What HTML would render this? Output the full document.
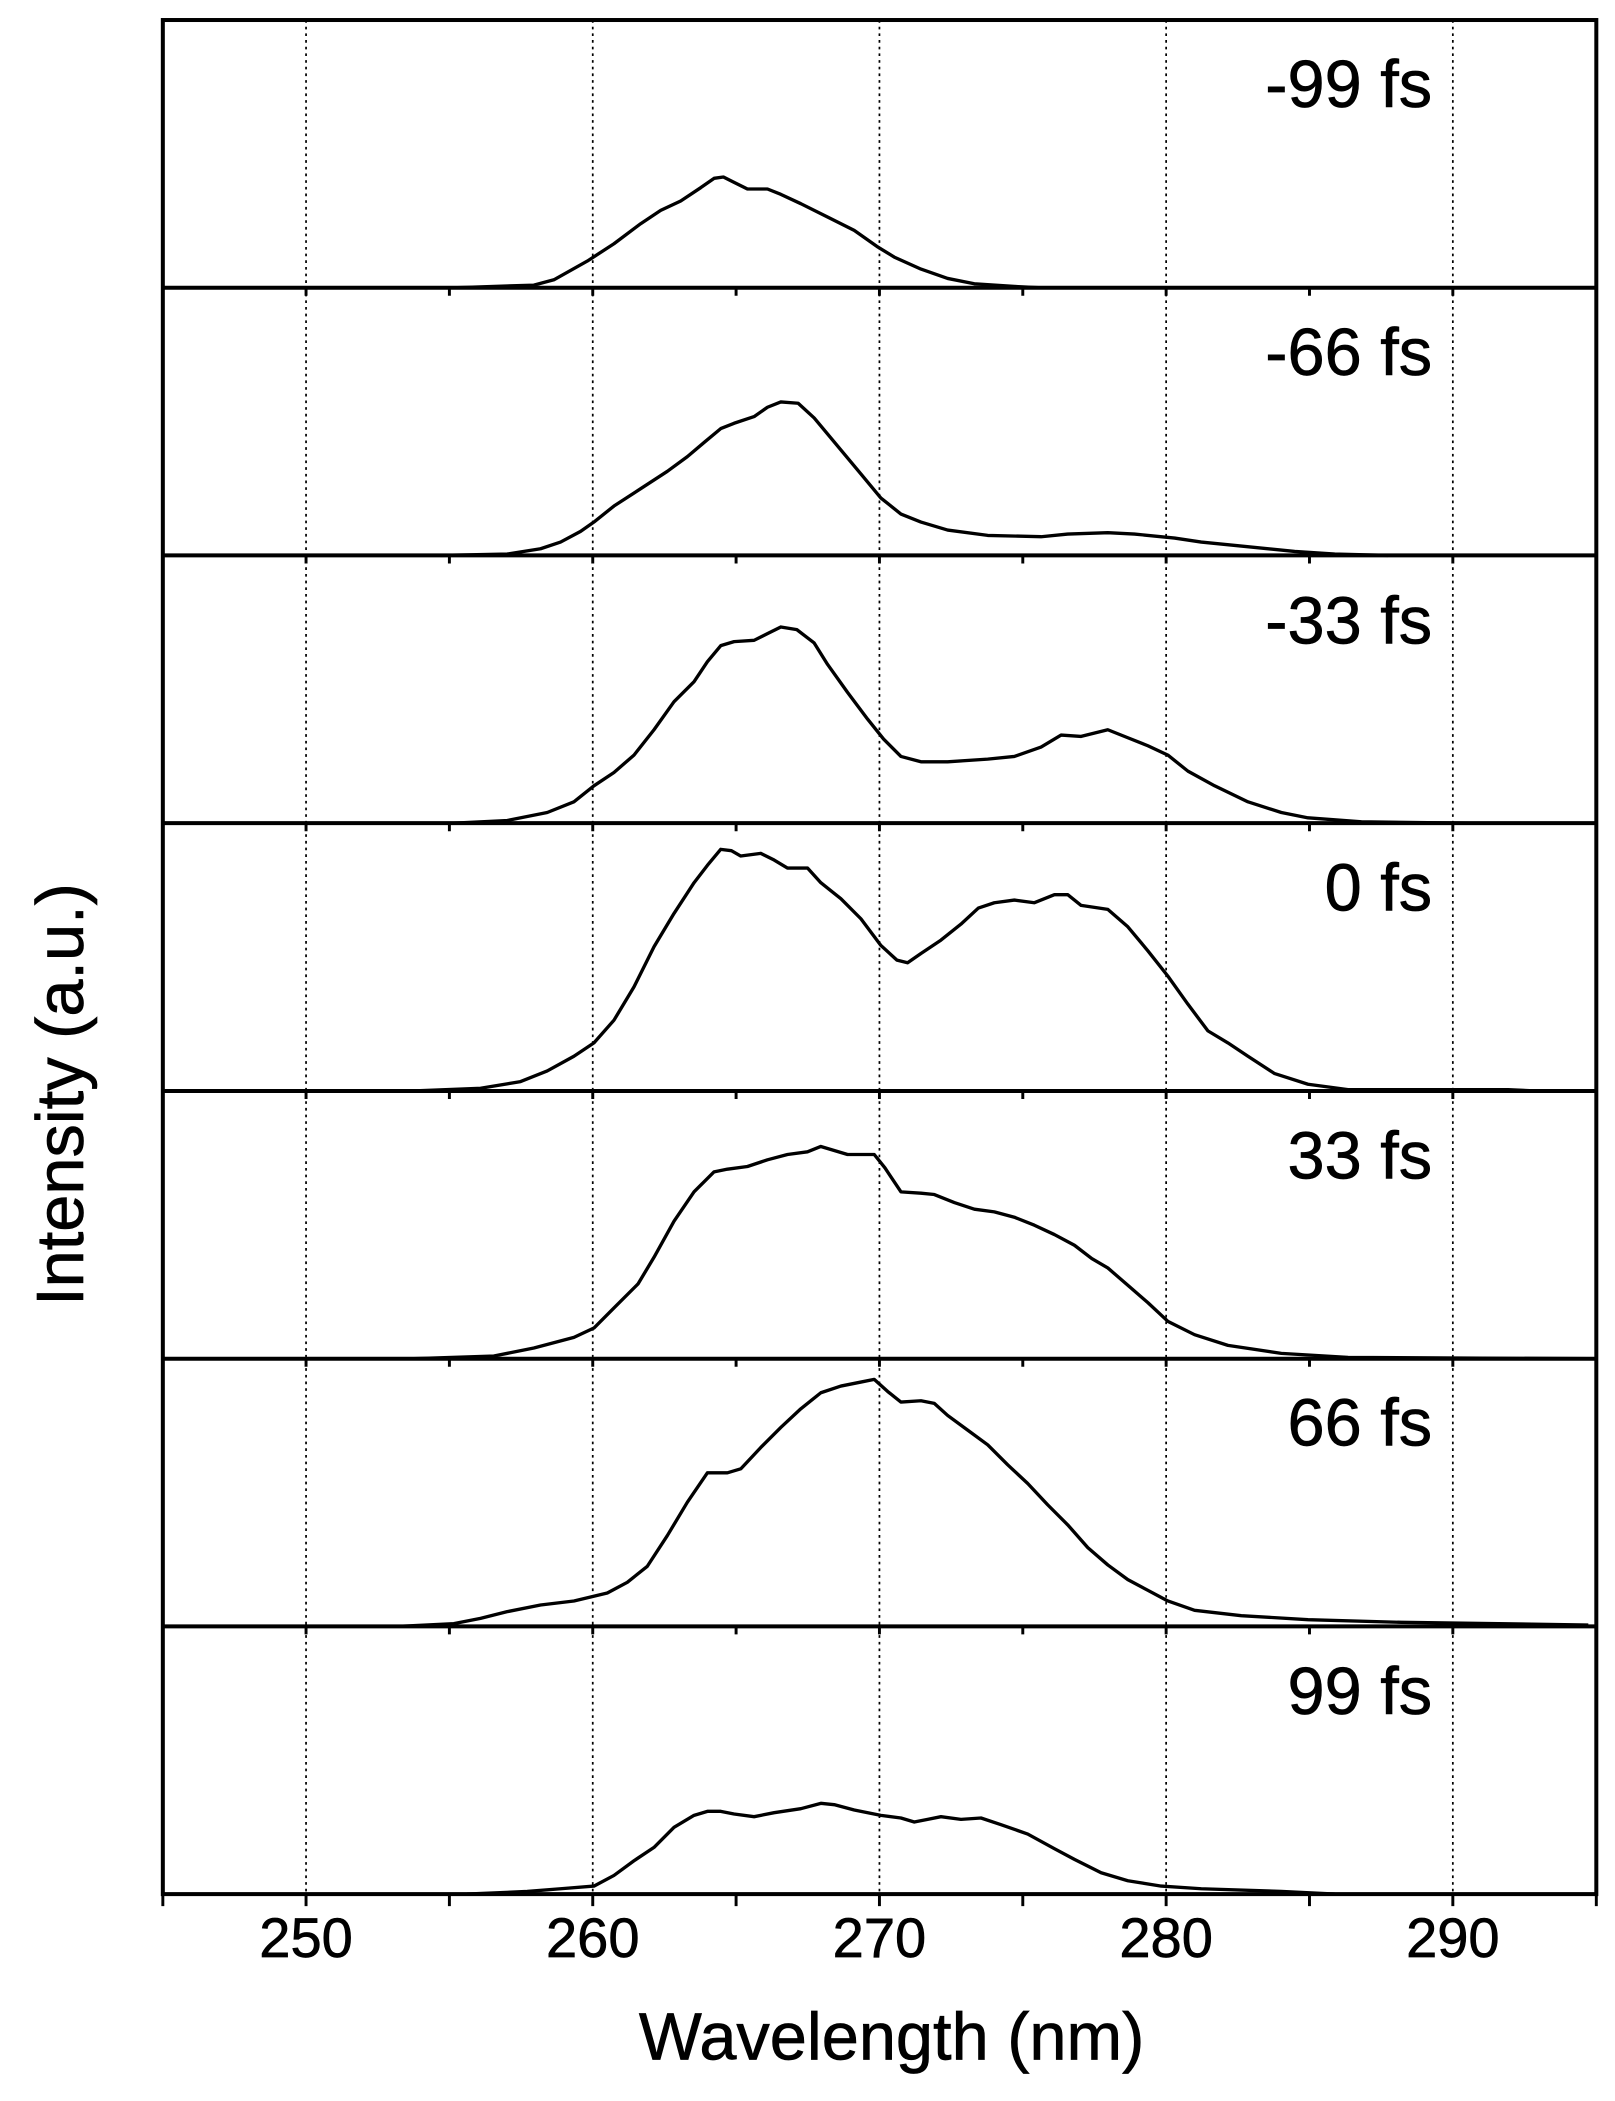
<!DOCTYPE html>
<html><head><meta charset="utf-8"><style>
html,body{margin:0;padding:0;background:#fff;}
svg{display:block;}
text{font-family:"Liberation Sans",Arial,sans-serif;fill:#000;}
</style></head><body>
<svg width="1615" height="2101" viewBox="0 0 1210 1574" preserveAspectRatio="none" xmlns="http://www.w3.org/2000/svg">
<rect width="1210" height="1574" fill="#fff"/>
<g stroke="#000" stroke-width="1.3" stroke-dasharray="2,3">
<line x1="229.3" y1="15" x2="229.3" y2="1419"/>
<line x1="444.1" y1="15" x2="444.1" y2="1419"/>
<line x1="658.9" y1="15" x2="658.9" y2="1419"/>
<line x1="873.7" y1="15" x2="873.7" y2="1419"/>
<line x1="1088.5" y1="15" x2="1088.5" y2="1419"/>
</g>
<g fill="none" stroke="#000" stroke-width="3">
<rect x="122" y="15" width="1074" height="1404"/>
<line x1="122" y1="215.6" x2="1196" y2="215.6"/>
<line x1="122" y1="416.1" x2="1196" y2="416.1"/>
<line x1="122" y1="616.7" x2="1196" y2="616.7"/>
<line x1="122" y1="817.3" x2="1196" y2="817.3"/>
<line x1="122" y1="1017.9" x2="1196" y2="1017.9"/>
<line x1="122" y1="1218.4" x2="1196" y2="1218.4"/>
</g>
<g stroke="#000" stroke-width="2.2">
<path d="M122,1419v9M229.3,1419v9M336.7,1419v9M444.1,1419v9M551.5,1419v9M658.9,1419v9M766.3,1419v9M873.7,1419v9M981.1,1419v9M1088.5,1419v9M1196,1419v9"/>
<g id="tk"><path d="M229.3,215.6v6M336.7,215.6v6M444.1,215.6v6M551.5,215.6v6M658.9,215.6v6M766.3,215.6v6M873.7,215.6v6M981.1,215.6v6M1088.5,215.6v6"/></g>
<use href="#tk" transform="translate(0,200.57)"/>
<use href="#tk" transform="translate(0,401.14)"/>
<use href="#tk" transform="translate(0,601.7)"/>
<use href="#tk" transform="translate(0,802.3)"/>
<use href="#tk" transform="translate(0,1002.8)"/>
</g>
<g fill="none" stroke="#000" stroke-width="2.5" stroke-linejoin="round">
<polyline transform="translate(0,2.6)" points="340,213 400,211 415,207 440,193 460,180 480,165 495,155 510,148 525,138 535,131 542,130 550,134 560,139 575,139 585,143 600,150 620,160 640,170 657,182 670,190 690,199 710,206 730,210 760,212 780,213"/>
<polyline transform="translate(0,3.1)" points="330,413 380,412 405,408 420,403 435,395 445,388 460,376 480,363 500,350 515,339 528,328 540,318 550,314 565,309 575,302 585,298 598,299 610,310 620,322 630,334 645,352 660,370 675,382 690,388 710,394 740,398 780,399 800,397 830,396 850,397 880,400 900,403 930,406 970,410 1000,412 1040,413"/>
<polyline transform="translate(0,3.7)" points="340,613 380,611 410,605 430,597 445,585 460,575 475,562 490,543 505,522 520,507 530,492 540,480 550,477 565,476 575,471 585,466 597,468 610,478 620,494 635,515 650,535 662,550 675,563 690,567 710,567 740,565 760,563 780,556 795,547 810,548 830,543 845,549 860,555 875,562 890,574 910,585 935,597 960,605 980,609 1020,612 1100,613"/>
<polyline transform="translate(0,4.3)" points="310,813 360,811 390,806 410,798 430,787 445,777 460,760 475,735 490,705 505,680 520,657 530,644 540,632 548,633 555,637 570,635 580,640 590,646 605,646 615,657 630,669 645,684 660,704 672,715 680,717 690,710 705,700 720,688 733,676 745,672 760,670 775,672 790,666 800,666 810,674 830,677 845,690 860,708 875,727 890,748 905,768 920,777 935,787 955,800 980,808 1010,812 1130,812 1150,813"/>
<polyline transform="translate(0,4.9)" points="310,1013 370,1011 400,1005 430,997 445,990 460,975 478,957 490,937 505,910 520,888 535,873 545,871 560,869 575,864 590,860 605,858 615,854 625,857 635,860 655,860 663,870 675,888 690,889 700,890 715,896 730,901 745,903 760,907 775,913 790,920 805,928 818,938 830,945 845,958 860,971 875,985 895,995 920,1003 960,1009 1010,1012 1190,1013"/>
<polyline transform="translate(0,5.4)" points="300,1213 340,1211 360,1207 380,1202 405,1197 430,1194 455,1188 470,1180 485,1168 500,1145 515,1120 530,1098 545,1098 555,1095 570,1079 585,1064 600,1050 615,1038 630,1033 645,1030 655,1028 665,1037 675,1045 690,1044 700,1046 710,1055 725,1066 740,1077 755,1092 770,1106 785,1122 800,1137 815,1154 830,1167 845,1178 860,1186 875,1194 895,1201 930,1205 980,1208 1050,1210 1190,1212"/>
<polyline transform="translate(0,6)" points="350,1413 395,1411 420,1409 445,1407 460,1399 475,1388 490,1378 505,1363 520,1354 530,1351 540,1351 550,1353 565,1355 580,1352 600,1349 615,1345 625,1346 640,1350 660,1354 675,1356 685,1359 695,1357 705,1355 720,1357 735,1356 750,1361 770,1368 790,1379 805,1387 825,1397 845,1403 870,1407 900,1409 960,1411 1000,1413"/>
</g>
<g font-size="50" text-anchor="end" stroke="#000" stroke-width="0.5">
<text x="1073" y="80">-99 fs</text>
<text x="1073" y="281">-66 fs</text>
<text x="1073" y="482">-33 fs</text>
<text x="1073" y="682">0 fs</text>
<text x="1073" y="883">33 fs</text>
<text x="1073" y="1083">66 fs</text>
<text x="1073" y="1284">99 fs</text>
</g>
<g font-size="42" text-anchor="middle" stroke="#000" stroke-width="0.5">
<text x="229.3" y="1466">250</text>
<text x="444.1" y="1466">260</text>
<text x="658.9" y="1466">270</text>
<text x="873.7" y="1466">280</text>
<text x="1088.5" y="1466">290</text>
</g>
<text x="668" y="1543" font-size="50" text-anchor="middle" stroke="#000" stroke-width="0.5">Wavelength (nm)</text>
<text transform="translate(62,820) rotate(-90)" font-size="50" text-anchor="middle" stroke="#000" stroke-width="0.5">Intensity (a.u.)</text>
</svg>
</body></html>
